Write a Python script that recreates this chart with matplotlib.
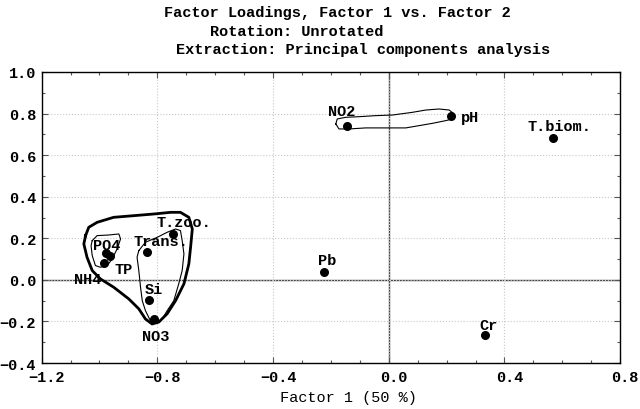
import numpy as np
import matplotlib
matplotlib.use('Agg')
import matplotlib.pyplot as plt
import matplotlib.transforms as mtransforms
from matplotlib.ticker import MultipleLocator

# Cargas factoriales (Factor 1, Factor 2)
variables = ['NO2', 'pH', 'T.biom.', 'Pb', 'Cr', 'T.zoo.', 'Trans.',
             'PO4', 'TP', 'NH4', 'Si', 'NO3']
factor1 = [-0.145, 0.215, 0.567, -0.225, 0.332, -0.747, -0.834,
           -0.976, -0.965, -0.986, -0.830, -0.813]
factor2 = [0.740, 0.788, 0.683, 0.038, -0.264, 0.221, 0.135,
           0.130, 0.115, 0.082, -0.096, -0.188]

# desplazamiento de las etiquetas (pixeles)
label_dx = [-5, 19, 7, 3, 4, 11, 13, 0, 14, -16, 5, 2]
label_dy = [15, -1, 12, 12, 10, 12, 11, 8, -13, -16, 11, -17]

# Envolventes dibujadas a mano (coordenadas de los factores)
outer_x = [-1.048, -1.037, -1.008, -0.951, -0.881, -0.812, -0.754, -0.720,
           -0.691, -0.679, -0.685, -0.691, -0.708, -0.737, -0.766, -0.795,
           -0.818, -0.841, -0.864, -0.899, -0.951, -0.997, -1.025, -1.043,
           -1.054]
outer_y = [0.213, 0.253, 0.277, 0.301, 0.309, 0.317, 0.325, 0.325,
           0.301, 0.245, 0.157, 0.077, -0.019, -0.100, -0.163, -0.203,
           -0.212, -0.188, -0.139, -0.091, -0.035, 0.005, 0.045, 0.109,
           0.173]

po4_x = [-1.025, -1.008, -0.968, -0.933, -0.927, -0.939, -0.956, -0.973,
         -0.997, -1.014, -1.025, -1.029]
po4_y = [0.189, 0.213, 0.216, 0.221, 0.197, 0.149, 0.101, 0.069,
         0.061, 0.069, 0.117, 0.165]

trans_x = [-0.864, -0.841, -0.800, -0.766, -0.737, -0.720, -0.714, -0.708,
           -0.714, -0.726, -0.743, -0.766, -0.783, -0.800, -0.824, -0.841,
           -0.852, -0.858, -0.864, -0.870]
trans_y = [0.141, 0.181, 0.205, 0.229, 0.245, 0.237, 0.189, 0.125,
           0.045, -0.019, -0.100, -0.148, -0.188, -0.203, -0.196, -0.148,
           -0.100, -0.035, 0.045, 0.109]

no2_x = [-0.183, -0.178, -0.149, -0.103, -0.045, 0.013, 0.082, 0.128,
         0.174, 0.209, 0.226, 0.220, 0.197, 0.151, 0.105, 0.059, -0.010,
         -0.080, -0.137, -0.172]
no2_y = [0.750, 0.774, 0.782, 0.785, 0.790, 0.793, 0.806, 0.817,
         0.822, 0.817, 0.798, 0.774, 0.766, 0.753, 0.742, 0.731, 0.731,
         0.731, 0.726, 0.726]

plt.rcParams['font.family'] = 'Liberation Mono'
plt.rcParams['font.weight'] = 'bold'
plt.rcParams['font.size'] = 11

fig = plt.figure(figsize=(6.4, 4.1), dpi=100)
ax = fig.add_axes([0.065, 0.112, 0.904, 0.710])

ax.set_xlim(-1.2, 0.8)
ax.set_ylim(-0.4, 1.0)
ax.xaxis.set_major_locator(MultipleLocator(0.4))
ax.yaxis.set_major_locator(MultipleLocator(0.2))
ax.xaxis.set_minor_locator(MultipleLocator(0.1))
ax.yaxis.set_minor_locator(MultipleLocator(0.1))
ax.tick_params(which='both', direction='in', top=True, right=True,
               width=0.8, color='#555555')
ax.tick_params(which='major', length=4)
ax.tick_params(axis='x', which='major', pad=5)
ax.tick_params(axis='y', which='major', pad=4)
ax.tick_params(which='minor', length=2)
ax.grid(True, which='major', linestyle=':', color='#c8c8c8', linewidth=0.8)
for s in ax.spines.values():
    s.set_linewidth(1.0)

# etiquetas del eje x algo desplazadas a la derecha, como en el original
shift = mtransforms.ScaledTranslation(5 / 100, 0, fig.dpi_scale_trans)
for lbl in ax.get_xticklabels():
    lbl.set_transform(lbl.get_transform() + shift)

ax.axhline(0, color='#444444', linewidth=1.0, zorder=1)
ax.axvline(0, color='#444444', linewidth=1.0, zorder=1)

# envolventes
for cx, cy, lw in [(outer_x, outer_y, 2.0), (po4_x, po4_y, 0.8),
                   (trans_x, trans_y, 0.8), (no2_x, no2_y, 0.8)]:
    ax.plot(cx + cx[:1], cy + cy[:1], color='black', linewidth=lw, zorder=2)

ax.scatter(factor1, factor2, s=30, color='black', zorder=3)
for name, x, y, dx, dy in zip(variables, factor1, factor2, label_dx, label_dy):
    ax.annotate(name, (x, y), xytext=(dx, dy), textcoords='offset pixels',
                ha='center', va='center', fontsize=11, zorder=4)

ax.set_xlabel('Factor 1 (50 %)')
ax.xaxis.set_label_coords(0.531, -0.092)

fig.text(0.527, 0.968, 'Factor Loadings, Factor 1 vs. Factor 2', ha='center', va='center')
fig.text(0.464, 0.922, 'Rotation: Unrotated', ha='center', va='center')
fig.text(0.567, 0.878, 'Extraction: Principal components analysis', ha='center', va='center')

fig.savefig('out.png', dpi=100)
